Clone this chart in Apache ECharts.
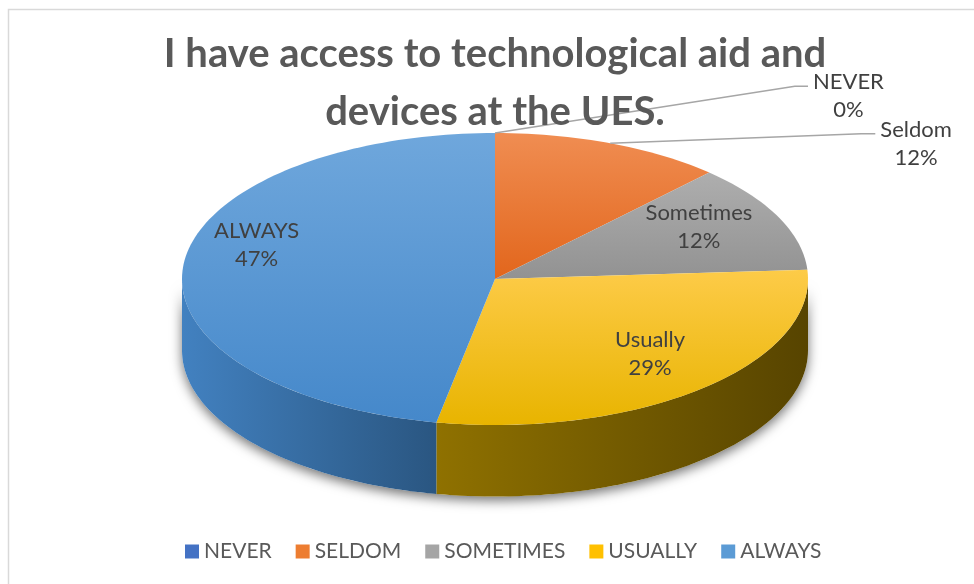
<!DOCTYPE html>
<html>
<head>
<meta charset="utf-8">
<script src="https://cdn.jsdelivr.net/npm/echarts@6/dist/echarts.min.js"></script>
<style>
html,body{margin:0;padding:0;background:#fff;}
#chart{width:974px;height:584px;}
</style>
</head>
<body>
<div id="chart"></div>
<script>
// ---- data ----
const titleText = 'I have access to technological aid and\ndevices at the UES.';
const categories = ['NEVER', 'SELDOM', 'SOMETIMES', 'USUALLY', 'ALWAYS'];
const sliceLabels = ['NEVER', 'Seldom', 'Sometimes', 'Usually', 'ALWAYS'];
const values = [0, 12, 12, 29, 47];

// ---- styles ----
const baseColors = ['#4472C4', '#ED7D31', '#A5A5A5', '#FFC000', '#5B9BD5'];
const topColors = [
  ['#5B87D6', '#3A64B4'],
  ['#F08D52', '#E2661C'],
  ['#AEAEAE', '#929292'],
  ['#FDCB48', '#E8B400'],
  ['#6FA7DC', '#4588CA']
];
const wallColors = [
  ['#30559A', '#213D73'],
  ['#A85520', '#7A3C12'],
  ['#7A7A7A', '#555555'],
  ['#8F7100', '#574400'],
  ['#4281C0', '#2A5681']
];
const FONT = 'Lato, "Open Sans", sans-serif';
const LABEL_FS = 22;
const DEPTH = 0.49;          // wall thickness in y units of the ellipse
const LABEL_R = 0.72;        // inside label radius
// pixel nudges for inside labels (layout only)
const labelNudge = { 2: [0, -7], 3: [6, -4], 4: [-14, -24] };
// outside label anchors (elbow points) in ellipse units
const outsideLabel = {
  0: { elbow: [1.0, 1.32], bend: 0.958 },
  1: { elbow: [1.215, 0.995], bend: 1.17 }
};

const total = values.reduce((a, b) => a + b, 0);
const starts = [];
let acc = 0;
values.forEach(v => { starts.push(acc / total); acc += v; });

const measureCtx = document.createElement('canvas').getContext('2d');
function textWidth(str, size) {
  measureCtx.font = size + 'px ' + FONT;
  return Math.max(...str.split('\n').map(s => measureCtx.measureText(s).width));
}

const TWO_PI = Math.PI * 2;
function arcPoints(api, t0, t1, dy) {
  const n = Math.max(2, Math.ceil((t1 - t0) / (Math.PI / 120)));
  const pts = [];
  for (let k = 0; k <= n; k++) {
    const t = t0 + (t1 - t0) * k / n;
    pts.push(api.coord([Math.sin(t), Math.cos(t) - dy]));
  }
  return pts;
}

function renderItem(params, api) {
  const i = params.seriesIndex;
  const a0 = api.value(2), a1 = api.value(3), v = api.value(4);
  const t0 = a0 * TWO_PI, t1 = a1 * TWO_PI;
  const children = [];

  // drop shadow under whole front wall (drawn once)
  if (i === 0) {
    const top = arcPoints(api, Math.PI / 2, Math.PI * 1.5, 0);
    const bot = arcPoints(api, Math.PI / 2, Math.PI * 1.5, DEPTH).reverse();
    children.push({
      type: 'polygon', z2: 0,
      shape: { points: top.concat(bot) },
      style: { fill: '#fff', shadowBlur: 12, shadowColor: 'rgba(0,0,0,0.55)', shadowOffsetY: 4 }
    });
  }

  if (v > 0) {
    const w0 = Math.max(t0, Math.PI / 2), w1 = Math.min(t1, Math.PI * 1.5);
    if (w1 > w0) {
      const top = arcPoints(api, w0, w1, 0);
      const bot = arcPoints(api, w0, w1, DEPTH).reverse();
      children.push({
        type: 'polygon', z2: 1,
        shape: { points: top.concat(bot) },
        style: {
          fill: new echarts.graphic.LinearGradient(0, 0, 1, 0, [
            { offset: 0, color: wallColors[i][0] },
            { offset: 1, color: wallColors[i][1] }
          ])
        }
      });
    }
    const pts = [api.coord([0, 0])].concat(arcPoints(api, t0, t1, 0));
    children.push({
      type: 'polygon', z2: 5,
      shape: { points: pts },
      style: {
        fill: new echarts.graphic.LinearGradient(0, 0, 0, 1, [
          { offset: 0, color: topColors[i][0] },
          { offset: 1, color: topColors[i][1] }
        ])
      }
    });
  }

  const tm = (t0 + t1) / 2;
  const txt = sliceLabels[i] + '\n' + v + '%';
  const textStyle = {
    text: txt, fill: '#404040', font: LABEL_FS + 'px ' + FONT,
    align: 'center', verticalAlign: 'middle', lineHeight: 28
  };
  if (outsideLabel[i]) {
    const o = outsideLabel[i];
    const p0 = api.coord([Math.sin(tm), Math.cos(tm)]);
    const pe = api.coord(o.elbow);
    const pb = api.coord([o.bend, o.elbow[1]]);
    children.push({
      type: 'polyline', z2: 8,
      shape: { points: [p0, pb, pe] },
      style: { stroke: '#A6A6A6', lineWidth: 1.5, fill: null }
    });
    const w = textWidth(txt, LABEL_FS);
    children.push({ type: 'text', z2: 10, x: pe[0] + 5 + w / 2, y: pe[1] + 10, style: textStyle });
  } else {
    const p = api.coord([LABEL_R * Math.sin(tm), LABEL_R * Math.cos(tm)]);
    const nd = labelNudge[i] || [0, 0];
    children.push({ type: 'text', z2: 10, x: p[0] + nd[0], y: p[1] + nd[1], style: textStyle });
  }
  return { type: 'group', children: children };
}

const series = categories.map((name, i) => ({
  type: 'custom',
  name: name,
  coordinateSystem: 'cartesian2d',
  renderItem: renderItem,
  itemStyle: { color: baseColors[i] },
  encode: { x: 0, y: 1 },
  silent: true,
  data: [[0, 0, starts[i], starts[i] + values[i] / total, values[i]]]
}));

const chart = echarts.init(document.getElementById('chart'), null, { renderer: 'canvas' });
chart.setOption({
  animation: false,
  backgroundColor: '#fff',
  title: {
    text: titleText,
    left: 490,
    top: 20,
    textAlign: 'center',
    textStyle: { fontFamily: FONT, fontWeight: 'bold', fontSize: 40, color: '#595959', lineHeight: 58 }
  },
  legend: {
    data: categories,
    left: 180,
    top: 536,
    icon: 'rect',
    itemWidth: 14,
    itemHeight: 14,
    itemGap: 24,
    textStyle: { fontFamily: FONT, fontSize: 21, color: '#595959' }
  },
  grid: { left: 182, top: 133, width: 626, height: 292 },
  xAxis: { type: 'value', min: -1, max: 1, show: false },
  yAxis: { type: 'value', min: -1, max: 1, show: false },
  graphic: [{
    type: 'rect', silent: true, z: -10,
    shape: { x: 8.5, y: 9.5, width: 1000, height: 1000 },
    style: { fill: null, stroke: '#D9D9D9', lineWidth: 1.5 }
  }],
  series: series
});
</script>
</body>
</html>
